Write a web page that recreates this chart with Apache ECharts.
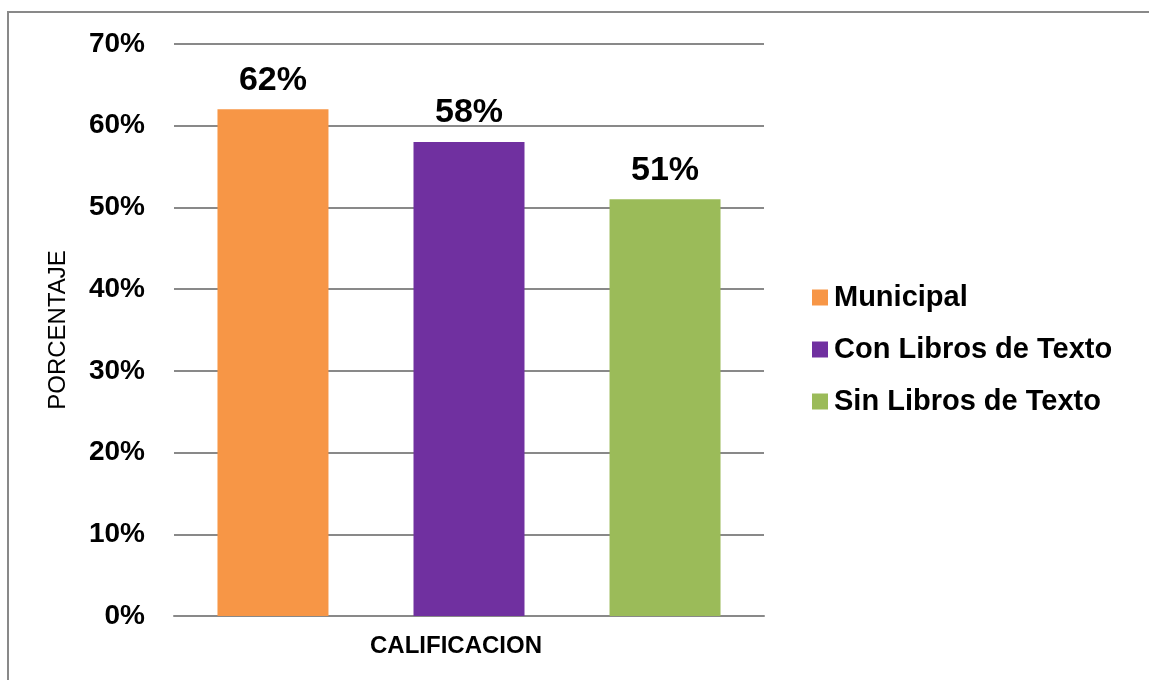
<!DOCTYPE html>
<html><head><meta charset="utf-8">
<script src="https://cdn.jsdelivr.net/npm/echarts@6/dist/echarts.min.js"></script>
<style>html,body{margin:0;padding:0;background:#fff}#c{width:1149px;height:680px}</style>
</head><body><div id="c"></div>
<script>
const categories = ['CALIFICACION'];
const seriesNames = ['Municipal', 'Con Libros de Texto', 'Sin Libros de Texto'];
const seriesValues = [[62], [58], [51]];
const seriesColors = ['#F79646', '#7030A0', '#9BBB59'];
const yTicks = [0, 10, 20, 30, 40, 50, 60, 70];

const chart = echarts.init(document.getElementById('c'), null, {renderer: 'canvas'});
const font = '"Liberation Sans", Arial, sans-serif';
chart.setOption({
  animation: false,
  graphic: [{type: 'rect', shape: {x: 8, y: 12, width: 1160, height: 700}, style: {fill: 'none', stroke: '#898989', lineWidth: 2}, silent: true}],
  grid: {left: 174, top: 44, width: 590, height: 572, containLabel: false},
  legend: {
    orient: 'vertical', left: 807, top: 278, itemWidth: 16, itemHeight: 16, itemGap: 23,
    icon: 'rect', data: seriesNames,
    textStyle: {fontFamily: font, fontWeight: 'bold', fontSize: 29, color: '#000', padding: [0, 0, 0, 1]}
  },
  xAxis: {
    type: 'category', data: categories,
    axisLine: {show: true, lineStyle: {color: '#898989', width: 2}},
    axisTick: {show: false},
    axisLabel: {fontFamily: font, fontWeight: 'bold', fontSize: 24, color: '#000', margin: 18, padding: [0, 26, 0, 0]}
  },
  yAxis: {
    type: 'value', min: yTicks[0], max: yTicks[yTicks.length - 1], interval: 10,
    name: 'PORCENTAJE', nameLocation: 'middle', nameGap: 104, nameRotate: 90,
    nameTextStyle: {fontFamily: font, fontSize: 24, color: '#000'},
    axisLine: {show: false}, axisTick: {show: false},
    splitLine: {lineStyle: {color: '#898989', width: 2}},
    axisLabel: {fontFamily: font, fontWeight: 'bold', fontSize: 28, color: '#000', margin: 29, formatter: v => v + '%'}
  },
  series: seriesNames.map((n, i) => ({
    name: n, type: 'bar', data: seriesValues[i], barWidth: 111, barGap: '76.6%',
    itemStyle: {color: seriesColors[i]},
    label: {show: true, position: 'top', distance: 12, formatter: p => p.value + '%',
      fontFamily: font, fontWeight: 'bold', fontSize: 34, color: '#000'}
  }))
});
</script></body></html>
